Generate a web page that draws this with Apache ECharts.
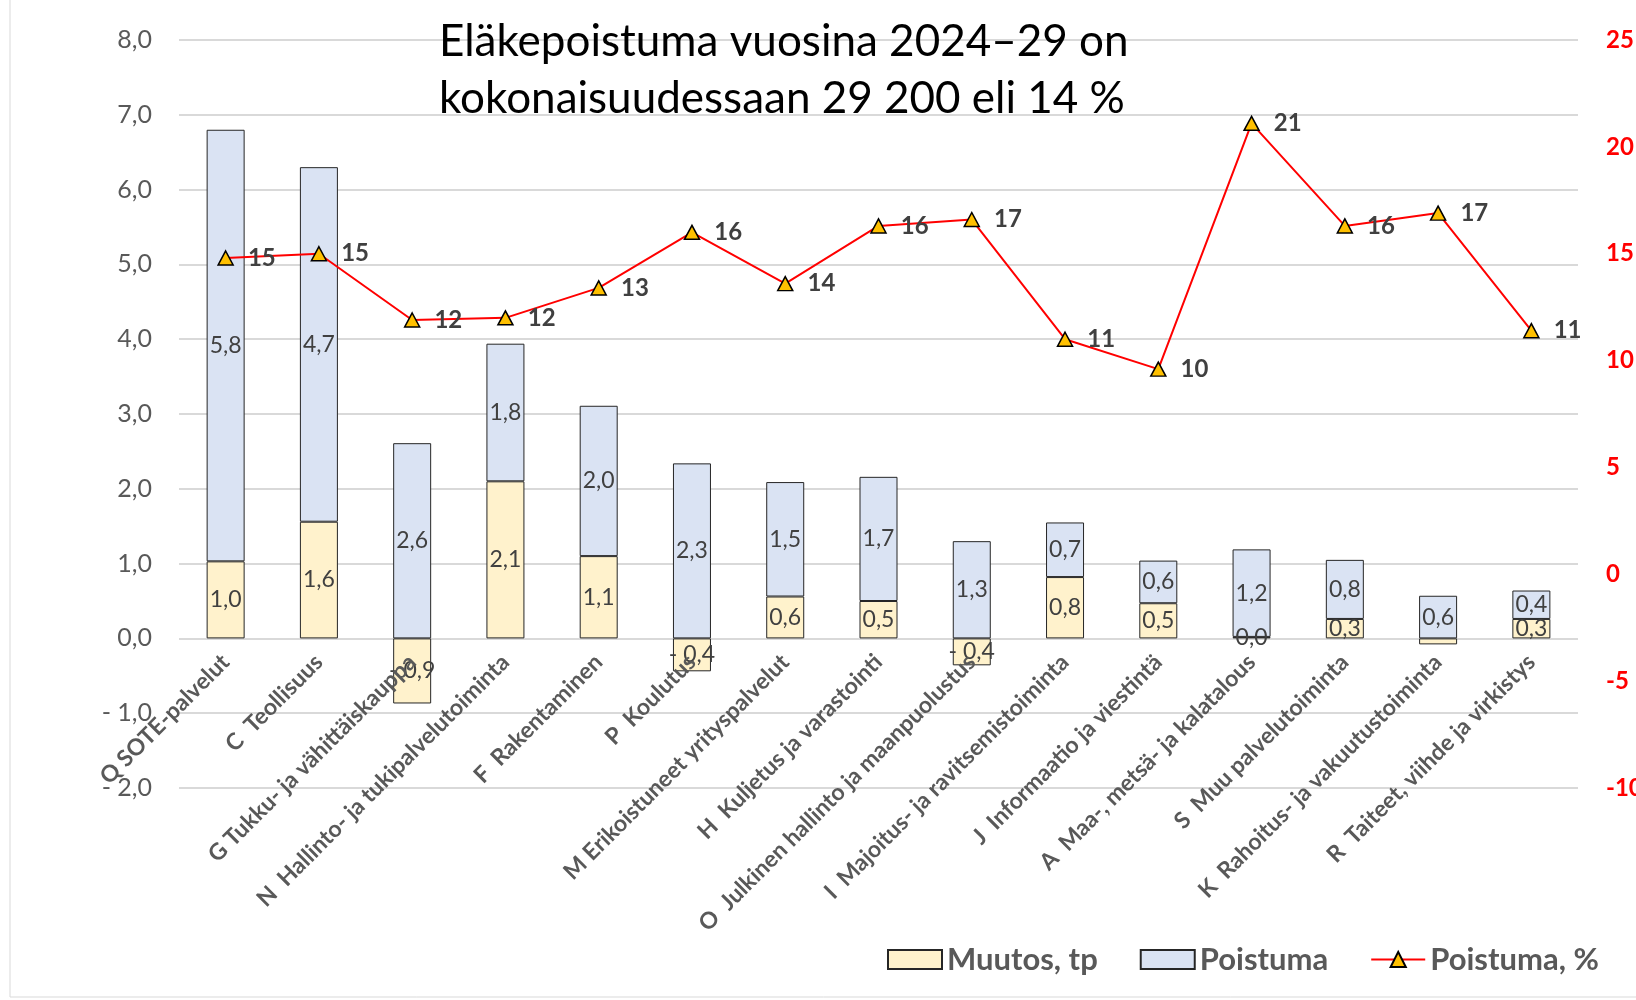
<!DOCTYPE html>
<html>
<head>
<meta charset="utf-8">
<script src="https://cdn.jsdelivr.net/npm/echarts@6/dist/echarts.min.js"></script>
<style>
  html, body { margin: 0; padding: 0; background: #fff; }
  #main { width: 1636px; height: 1000px; }
</style>
</head>
<body>
<div id="main"></div>
<script>
// toimialat
let categories = [
  'Q SOTE-palvelut', 'C  Teollisuus', 'G Tukku- ja vähittäiskauppa',
  'N  Hallinto- ja tukipalvelutoiminta', 'F  Rakentaminen', 'P  Koulutus',
  'M Erikoistuneet yrityspalvelut', 'H  Kuljetus ja varastointi',
  'O  Julkinen hallinto ja maanpuolustus', 'I  Majoitus- ja ravitsemistoiminta',
  'J  Informaatio ja viestintä', 'A  Maa-, metsä- ja kalatalous',
  'S  Muu palvelutoiminta', 'K  Rahoitus- ja vakuutustoiminta',
  'R  Taiteet, viihde ja virkistys'
];
// Muutos, tp
let muutos = [1.03, 1.56, -0.87, 2.10, 1.10, -0.44, 0.56, 0.50, -0.36, 0.82, 0.47, 0.02, 0.26, -0.08, 0.26];
// Poistuma
let poistuma = [5.77, 4.74, 2.61, 1.84, 2.01, 2.34, 1.53, 1.66, 1.30, 0.73, 0.57, 1.17, 0.79, 0.57, 0.38];
// Poistuma, %
let poistumaPct = [14.8, 15.0, 11.9, 12.0, 13.4, 16.0, 13.6, 16.3, 16.6, 11.0, 9.6, 21.1, 16.3, 16.9, 11.4];
// piilotettu nimiö (K)
let hiddenMuutosLabel = [13];

let font = 'Lato, "Open Sans", sans-serif';

function fmt1(v) {
  let s = Math.abs(v).toFixed(1).replace('.', ',');
  return v < 0 ? '- ' + s : s;
}

let myChart = echarts.init(document.getElementById('main'));

let muutosData = muutos.map(function(v, i) {
  if (hiddenMuutosLabel.indexOf(i) >= 0) {
    return { value: v, label: { show: false } };
  }
  return v;
});

// x-akseli nollan kohdalle: (0 - min) / (max - min) * korkeus
let gridTop = 40, gridBottom = 212;
let plotH = 1000 - gridTop - gridBottom;
let zeroOffset = -plotH * (0 - (-2)) / (8 - (-2));

let option = {
  animation: false,
  textStyle: { fontFamily: font },
  title: {
    text: 'Eläkepoistuma vuosina 2024–29 on\nkokonaisuudessaan 29 200 eli 14 %',
    left: 434,
    top: 8,
    textStyle: {
      fontFamily: font,
      fontSize: 44,
      fontWeight: 'normal',
      color: '#000',
      lineHeight: 57
    }
  },
  graphic: [{
    type: 'rect',
    shape: { x: 10, y: -10, width: 1700, height: 1007 },
    style: { fill: 'none', stroke: '#D9D9D9', lineWidth: 1 },
    silent: true
  }],
  legend: {
    left: 882,
    top: 939,
    itemWidth: 54,
    itemHeight: 19,
    itemGap: 42,
    textStyle: { fontFamily: font, fontSize: 31, fontWeight: 'bold', color: '#595959' },
    data: [
      { name: 'Muutos, tp', icon: 'rect' },
      { name: 'Poistuma', icon: 'rect' },
      'Poistuma, %'
    ]
  },
  grid: { left: 179, right: 58, top: gridTop, bottom: gridBottom, containLabel: false, outerBoundsMode: 'none' },
  xAxis: {
    type: 'category',
    data: categories,
    offset: zeroOffset,
    z: 3,
    axisLine: { show: false, onZero: false },
    axisTick: { show: false },
    axisLabel: {
      rotate: 45,
      interval: 0,
      margin: 20,
      fontFamily: font,
      fontSize: 23,
      fontWeight: 'bold',
      color: '#595959'
    }
  },
  yAxis: [{
    type: 'value',
    min: -2,
    max: 8,
    interval: 1,
    axisLine: { show: false },
    axisTick: { show: false },
    splitLine: { lineStyle: { color: '#D9D9D9', width: 2 } },
    axisLabel: {
      margin: 27,
      fontFamily: font,
      fontSize: 25,
      color: '#595959',
      formatter: function(v) { return fmt1(v); }
    }
  }, {
    type: 'value',
    min: -10,
    max: 25,
    interval: 5,
    axisLine: { show: false },
    axisTick: { show: false },
    splitLine: { show: false },
    axisLabel: {
      margin: 28,
      fontFamily: font,
      fontSize: 24,
      fontWeight: 'bold',
      color: '#FF0000'
    }
  }],
  series: [{
    name: 'Muutos, tp',
    type: 'bar',
    stack: 'a',
    barWidth: 38,
    data: muutosData,
    itemStyle: { color: '#FFF2CC', borderColor: '#262626', borderWidth: 1 },
    label: {
      show: true,
      position: 'inside',
      fontFamily: font,
      fontSize: 23,
      color: '#404040',
      formatter: function(p) { return fmt1(p.value); }
    }
  }, {
    name: 'Poistuma',
    type: 'bar',
    stack: 'a',
    barWidth: 38,
    data: poistuma,
    itemStyle: { color: '#DAE3F3', borderColor: '#262626', borderWidth: 1 },
    label: {
      show: true,
      position: 'inside',
      fontFamily: font,
      fontSize: 23,
      color: '#404040',
      formatter: function(p) { return fmt1(p.value); }
    }
  }, {
    name: 'Poistuma, %',
    type: 'line',
    yAxisIndex: 1,
    data: poistumaPct,
    symbol: 'triangle',
    symbolSize: [15, 14],
    lineStyle: { color: '#FF0000', width: 2 },
    itemStyle: { color: '#FFC000', borderColor: '#000', borderWidth: 1.5 },
    label: {
      show: true,
      position: 'right',
      distance: 14,
      fontFamily: font,
      fontSize: 24,
      fontWeight: 'bold',
      color: '#404040',
      formatter: function(p) { return Math.round(p.value).toString(); }
    },
    z: 5
  }]
};

myChart.setOption(option);
</script>
</body>
</html>
